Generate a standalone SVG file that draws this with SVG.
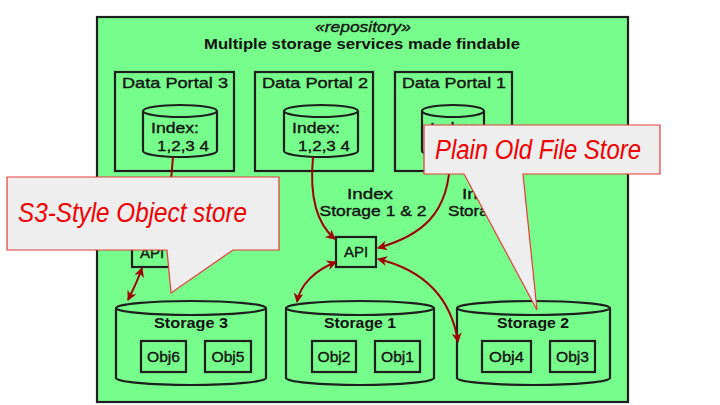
<svg xmlns="http://www.w3.org/2000/svg" width="720" height="405" viewBox="0 0 720 405">
<defs>
<style>
.frame{fill:#77fd8b;stroke:#1e1e1e;stroke-width:2.2}
.box{fill:#77fd8b;stroke:#1e1e1e;stroke-width:2.2}
.cyl{fill:#77fd8b;stroke:#1e1e1e;stroke-width:2.2;stroke-linejoin:round}
.ln{fill:none;stroke:#1e1e1e;stroke-width:2.2}
.t{font-family:"Liberation Sans","DejaVu Sans",sans-serif;font-size:15px;fill:#111;stroke:#111;stroke-width:0.35}
.b{font-weight:bold;stroke-width:0}
.c{text-anchor:middle}
.conn{fill:none;stroke:#a00000;stroke-width:2}
.callout{fill:#eeeeee;stroke:#e83a3a;stroke-width:1.2}
.ct{font-family:"Liberation Sans","DejaVu Sans",sans-serif;font-style:italic;font-size:27px;fill:#f00000}
</style>
<marker id="ah" viewBox="0 0 10 10" refX="9" refY="5" markerWidth="5" markerHeight="5" orient="auto-start-reverse" markerUnits="strokeWidth">
<path d="M0,0 L10,5 L0,10 L3,5 z" fill="#a00000"/>
</marker>
</defs>
<rect width="720" height="405" fill="#ffffff"/>

<g id="repository">
<rect class="frame" x="97" y="17" width="531" height="385"/>
<text class="t c" x="363" y="32" font-style="italic" textLength="96" lengthAdjust="spacingAndGlyphs">«repository»</text>
<text class="t b c" x="362" y="49" textLength="316" lengthAdjust="spacingAndGlyphs">Multiple storage services made findable</text>
</g>

<g id="portal3">
<rect class="box" x="115" y="72" width="119" height="99"/>
<text class="t" x="122" y="88" textLength="106" lengthAdjust="spacingAndGlyphs">Data Portal 3</text>
<path class="cyl" d="M143,111 A37,6 0 0 1 217,111 L217,151 A37,6 0 0 1 143,151 Z"/>
<path class="ln" d="M143,111 A37,6 0 0 0 217,111"/>
<text class="t" x="151" y="133" textLength="48" lengthAdjust="spacingAndGlyphs">Index:</text>
<text class="t" x="157" y="151" textLength="52" lengthAdjust="spacingAndGlyphs">1,2,3 4</text>
</g>

<g id="portal2">
<rect class="box" x="255" y="72" width="118" height="99"/>
<text class="t" x="262" y="88" textLength="106" lengthAdjust="spacingAndGlyphs">Data Portal 2</text>
<path class="cyl" d="M284,111 A37,6 0 0 1 358,111 L358,151 A37,6 0 0 1 284,151 Z"/>
<path class="ln" d="M284,111 A37,6 0 0 0 358,111"/>
<text class="t" x="292" y="133" textLength="48" lengthAdjust="spacingAndGlyphs">Index:</text>
<text class="t" x="298" y="151" textLength="52" lengthAdjust="spacingAndGlyphs">1,2,3 4</text>
</g>

<g id="portal1">
<rect class="box" x="395" y="72" width="117" height="99"/>
<text class="t" x="402" y="88" textLength="104" lengthAdjust="spacingAndGlyphs">Data Portal 1</text>
<path class="cyl" d="M422,111 A31,6 0 0 1 484,111 L484,151 A31,6 0 0 1 422,151 Z"/>
<path class="ln" d="M422,111 A31,6 0 0 0 484,111"/>
<text class="t" x="430" y="133" textLength="48" lengthAdjust="spacingAndGlyphs">Index:</text>
</g>

<g id="label12">
<text class="t c" x="370" y="199" textLength="46" lengthAdjust="spacingAndGlyphs">Index</text>
<text class="t c" x="373" y="216" textLength="107" lengthAdjust="spacingAndGlyphs">Storage 1 &amp; 2</text>
</g>
<g id="label3">
<text class="t c" x="485" y="199" textLength="46" lengthAdjust="spacingAndGlyphs">Index</text>
<text class="t c" x="485" y="216" textLength="74" lengthAdjust="spacingAndGlyphs">Storage 3</text>
</g>

<g id="api-left">
<rect class="box" x="132" y="237" width="40" height="30"/>
<text class="t c" x="152" y="258">API</text>
</g>
<g id="api-mid">
<rect class="box" x="336" y="237" width="40" height="30"/>
<text class="t c" x="356" y="257">API</text>
</g>

<g id="storage3">
<path class="cyl" d="M116,308 A75,7 0 0 1 266,308 L266,378 A75,7 0 0 1 116,378 Z"/>
<path class="ln" d="M116,308 A75,7 0 0 0 266,308"/>
<text class="t b c" x="191" y="328" textLength="74" lengthAdjust="spacingAndGlyphs">Storage 3</text>
<rect class="box" x="141" y="341" width="45" height="31"/>
<text class="t c" x="163.5" y="362" textLength="33" lengthAdjust="spacingAndGlyphs">Obj6</text>
<rect class="box" x="205" y="341" width="46" height="31"/>
<text class="t c" x="228" y="362" textLength="33" lengthAdjust="spacingAndGlyphs">Obj5</text>
</g>

<g id="storage1">
<path class="cyl" d="M286,308 A74,7 0 0 1 434,308 L434,378 A74,7 0 0 1 286,378 Z"/>
<path class="ln" d="M286,308 A74,7 0 0 0 434,308"/>
<text class="t b c" x="360" y="328" textLength="72" lengthAdjust="spacingAndGlyphs">Storage 1</text>
<rect class="box" x="312" y="341" width="44" height="31"/>
<text class="t c" x="334" y="362" textLength="33" lengthAdjust="spacingAndGlyphs">Obj2</text>
<rect class="box" x="375" y="341" width="45" height="31"/>
<text class="t c" x="397.5" y="362" textLength="33" lengthAdjust="spacingAndGlyphs">Obj1</text>
</g>

<g id="storage2">
<path class="cyl" d="M457,308 A76.5,7 0 0 1 610,308 L610,378 A76.5,7 0 0 1 457,378 Z"/>
<path class="ln" d="M457,308 A76.5,7 0 0 0 610,308"/>
<text class="t b c" x="533" y="328" textLength="72" lengthAdjust="spacingAndGlyphs">Storage 2</text>
<rect class="box" x="482" y="341" width="49" height="31"/>
<text class="t c" x="506.5" y="362" textLength="35" lengthAdjust="spacingAndGlyphs">Obj4</text>
<rect class="box" x="550" y="341" width="45" height="31"/>
<text class="t c" x="572.5" y="362" textLength="33" lengthAdjust="spacingAndGlyphs">Obj3</text>
</g>

<g id="connectors">
<path class="conn" d="M173,157 C171,190 166,215 160,236" marker-end="url(#ah)"/>
<path class="conn" d="M313,157 C309,200 318,225 335,239" marker-end="url(#ah)"/>
<path class="conn" d="M450,157 C450,215 420,236 378,248" marker-end="url(#ah)"/>
<path class="conn" d="M142,268 C138,280 133,290 128,300" marker-start="url(#ah)" marker-end="url(#ah)"/>
<path class="conn" d="M336,262 C315,270 300,285 297,302" marker-start="url(#ah)" marker-end="url(#ah)"/>
<path class="conn" d="M378,259 C415,268 450,290 458,342" marker-start="url(#ah)" marker-end="url(#ah)"/>
</g>

<g id="callout-s3">
<path class="callout" d="M7,177 L279,177 L279,250 L233,250 L171,293 L167,250 L7,250 Z"/>
<text class="ct" x="18" y="222" textLength="229" lengthAdjust="spacingAndGlyphs">S3-Style Object store</text>
</g>
<g id="callout-file">
<path class="callout" d="M424,125 L660,125 L660,174 L523,174 L537,310 L464,174 L424,174 Z"/>
<text class="ct" x="435" y="159" textLength="206" lengthAdjust="spacingAndGlyphs">Plain Old File Store</text>
</g>
</svg>
